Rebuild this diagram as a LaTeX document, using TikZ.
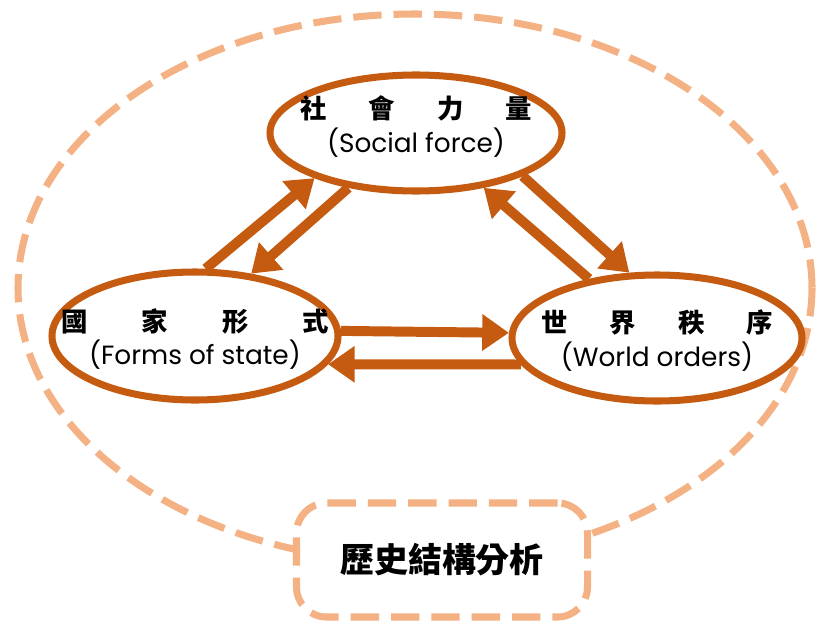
\documentclass[tikz,border=0pt]{standalone}
\usepackage{fontspec}
\setmainfont{Poppins}
\newfontfamily\cjk{Noto Sans CJK TC}
\usetikzlibrary{shapes.geometric,arrows.meta}
\definecolor{rust}{HTML}{C55A11}
\definecolor{peach}{HTML}{F4B183}
\begin{document}
\begin{tikzpicture}[x=0.03cm,y=-0.03cm,
  force/.style={ellipse,draw=rust,line width=6pt,fill=white,inner sep=0pt},
  every label/.style={align=center,font=\fontsize{22.5}{29}\selectfont},
  flow/.style={draw=rust,line width=8.5pt,-{Triangle[length=0.8cm,width=1.05cm]}}]
            \useasboundingbox (0,0) rectangle (821,621);
            % outer frame
            \draw[peach,line width=6pt,dash pattern=on 0.85cm off 0.36cm] (415,288) ellipse [x radius=397,y radius=274];

            \node[force,minimum width=8.76cm,minimum height=3.48cm,
                label={[yshift=0.18cm]center:{\cjk\bfseries 社\hspace{1.6em}會\hspace{1.6em}力\hspace{1.6em}量}\\(Social force)}] (social) at (416,133) {};
            \node[force,minimum width=8.58cm,minimum height=3.84cm,
                label={[yshift=-0.09cm]center:{\cjk\bfseries 國\hspace{2.05em}家\hspace{2.05em}形\hspace{2.05em}式}\\(Forms of state)}] (forms) at (195,336) {};
            \node[force,minimum width=8.7cm,minimum height=3.78cm,
                label={[yshift=-0.09cm]center:{\cjk\bfseries 世\hspace{1.6em}界\hspace{1.6em}秩\hspace{1.6em}序}\\(World orders)}] (world) at (657,338) {};

            \draw[flow] (forms.81) -- (social.204);
            \draw[flow] (social.219) -- (forms.48);
            \draw[flow] (social.338) -- (world.113);
            \draw[flow] (world.139) -- (social.321);
            \draw[flow] (forms.2) -- (world.178);
            \draw[flow] (world.191) -- (forms.348);

            \node[draw=peach,line width=6pt,dash pattern=on 0.85cm off 0.36cm,rounded corners=0.9cm,
                fill=white,minimum width=8.73cm,minimum height=3.42cm,
                font=\cjk\bfseries\fontsize{29}{34}\selectfont] (method) at (442,560) {歷史結構分析};
\end{tikzpicture}
\end{document}
